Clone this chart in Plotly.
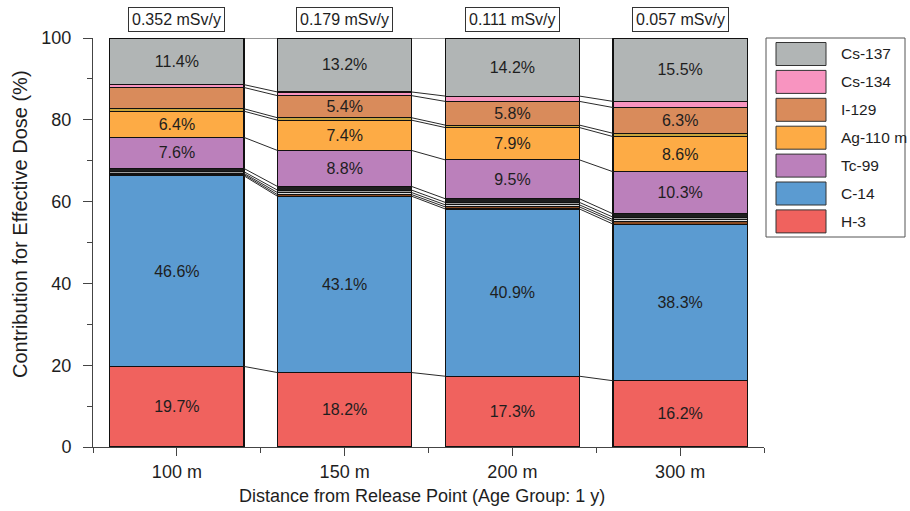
import plotly.graph_objects as go

# ---- data -------------------------------------------------------------
categories = ["100 m", "150 m", "200 m", "300 m"]
total_dose = [0.352, 0.179, 0.111, 0.057]          # mSv/y

h3      = [19.7, 18.2, 17.3, 16.2]
c14     = [46.6, 43.1, 40.9, 38.3]
minor_a = [0.3, 0.4, 0.5, 0.6]
minor_b = [0.3, 0.5, 0.5, 0.5]
minor_c = [0.4, 0.6, 0.6, 0.6]
minor_d = [0.8, 0.9, 0.9, 0.8]
tc99    = [7.6, 8.8, 9.5, 10.3]
ag110m  = [6.4, 7.4, 7.9, 8.6]
minor_e = [0.6, 0.6, 0.6, 0.8]
i129    = [5.2, 5.4, 5.8, 6.3]
cs134   = [0.7, 0.9, 1.3, 1.5]
cs137   = [11.4, 13.2, 14.2, 15.5]

# stacking order, bottom to top: (name, values, colour, in legend)
layers = [
    ("H-3", h3, "#f0625e", True),
    ("C-14", c14, "#5b9bd1", True),
    ("minor a", minor_a, "#8a4a22", False),
    ("minor b", minor_b, "#dcdcdc", False),
    ("minor c", minor_c, "#9c9c9c", False),
    ("minor d", minor_d, "#1e1e1e", False),
    ("Tc-99", tc99, "#bb80bb", True),
    ("Ag-110 m", ag110m, "#fdab45", True),
    ("minor e", minor_e, "#c9a53c", False),
    ("I-129", i129, "#d98b5b", True),
    ("Cs-134", cs134, "#f894c0", True),
    ("Cs-137", cs137, "#b1b5b5", True),
]

LABEL_MIN = 5.3
BAR_W = 0.8
FONT = "Arial, Liberation Sans, Helvetica, sans-serif"
TXT = "#1e1e1e"

xpos = list(range(len(categories)))

fig = go.Figure()

for name, vals, col, _ in layers:
    labels = [f"{v:.1f}%" if v >= LABEL_MIN else "" for v in vals]
    fig.add_trace(go.Bar(
        x=xpos, y=vals, width=BAR_W, name=name,
        marker=dict(color=col, line=dict(color="#111111", width=1.1)),
        text=labels, textposition="inside", insidetextanchor="middle",
        textangle=0, constraintext="none",
        textfont=dict(family=FONT, size=16, color=TXT),
        showlegend=False, hoverinfo="name+y",
    ))

# connector lines joining each layer boundary of neighbouring bars
cum = []
running = [0.0] * len(categories)
for _, vals, _, _ in layers:
    running = [r + v for r, v in zip(running, vals)]
    cum.append(list(running))

lx, ly = [], []
for bnd in cum:
    for i in range(len(categories) - 1):
        lx += [xpos[i] + BAR_W / 2, xpos[i + 1] - BAR_W / 2, None]
        ly += [bnd[i], bnd[i + 1], None]
fig.add_trace(go.Scatter(x=lx, y=ly, mode="lines",
                         line=dict(color="#2a2a2a", width=1),
                         showlegend=False, hoverinfo="skip"))

# ---- layout geometry (pixels) -----------------------------------------
W, H = 910, 511
ML, MR, MT, MB = 93, 146, 38, 64
PW, PH = W - ML - MR, H - MT - MB


def px_x(p):
    return (p - ML) / PW


def px_y(p):
    return (H - MB - p) / PH


shapes = []
annotations = []

# total dose boxes above each bar
for i, d in enumerate(total_dose):
    annotations.append(dict(
        x=xpos[i], xref="x", y=px_y(19), yref="paper",
        text=f"{d:.3f} mSv/y", showarrow=False,
        font=dict(family=FONT, size=16, color=TXT),
        bordercolor="#333333", borderwidth=1, borderpad=3,
        bgcolor="white", xanchor="center", yanchor="middle",
    ))

# axis titles
annotations.append(dict(
    x=px_x(20), y=px_y(224), xref="paper", yref="paper",
    text="Contribution for Effective Dose (%)", textangle=-90,
    showarrow=False, xanchor="center", yanchor="middle",
    font=dict(family=FONT, size=20, color=TXT),
))
annotations.append(dict(
    x=px_x(422), y=px_y(496), xref="paper", yref="paper",
    text="Distance from Release Point (Age Group: 1 y)",
    showarrow=False, xanchor="center", yanchor="middle",
    font=dict(family=FONT, size=18, color=TXT),
))

# legend box with large swatches
shapes.append(dict(type="rect", xref="paper", yref="paper",
                   x0=px_x(766), x1=px_x(905), y0=px_y(237), y1=px_y(38),
                   line=dict(color="#555555", width=1), fillcolor="white"))
legend_items = [(n, c) for n, _, c, show in layers if show][::-1]
for k, (name, col) in enumerate(legend_items):
    cy = 54 + k * 27.9
    shapes.append(dict(type="rect", xref="paper", yref="paper",
                       x0=px_x(776), x1=px_x(826),
                       y0=px_y(cy + 11.5), y1=px_y(cy - 11.5),
                       line=dict(color="#333333", width=1), fillcolor=col))
    annotations.append(dict(
        x=px_x(839), y=px_y(cy), xref="paper", yref="paper",
        text=name, showarrow=False, xanchor="left", yanchor="middle",
        font=dict(family=FONT, size=15.5, color=TXT),
    ))

fig.update_layout(
    width=W, height=H,
    margin=dict(l=ML, r=MR, t=MT, b=MB, pad=0),
    barmode="stack", bargap=0.2,
    plot_bgcolor="white", paper_bgcolor="white",
    font=dict(family=FONT, color=TXT),
    showlegend=False,
    shapes=shapes, annotations=annotations,
    xaxis=dict(
        range=[-0.5, 3.5], tickmode="array", tickvals=xpos, ticktext=categories,
        ticks="outside", ticklen=8, tickwidth=1, tickcolor="#444444",
        showline=True, linecolor="#444444", linewidth=1, showgrid=False,
        zeroline=False, tickfont=dict(size=18, color=TXT), automargin=False,
        minor=dict(tickmode="linear", tick0=0.5, dtick=1, ticks="outside",
                   ticklen=5, tickcolor="#444444", showgrid=False),
    ),
    yaxis=dict(
        range=[0, 100], dtick=20, ticks="outside", ticklen=9, tickwidth=1,
        tickcolor="#444444", showline=True, linecolor="#444444", linewidth=1,
        showgrid=False, zeroline=False, tickfont=dict(size=18, color=TXT),
        ticklabelstandoff=8, automargin=False,
        minor=dict(dtick=10, ticks="outside", ticklen=5, tickcolor="#444444",
                   showgrid=False),
    ),
)

fig.write_html("out.html")
